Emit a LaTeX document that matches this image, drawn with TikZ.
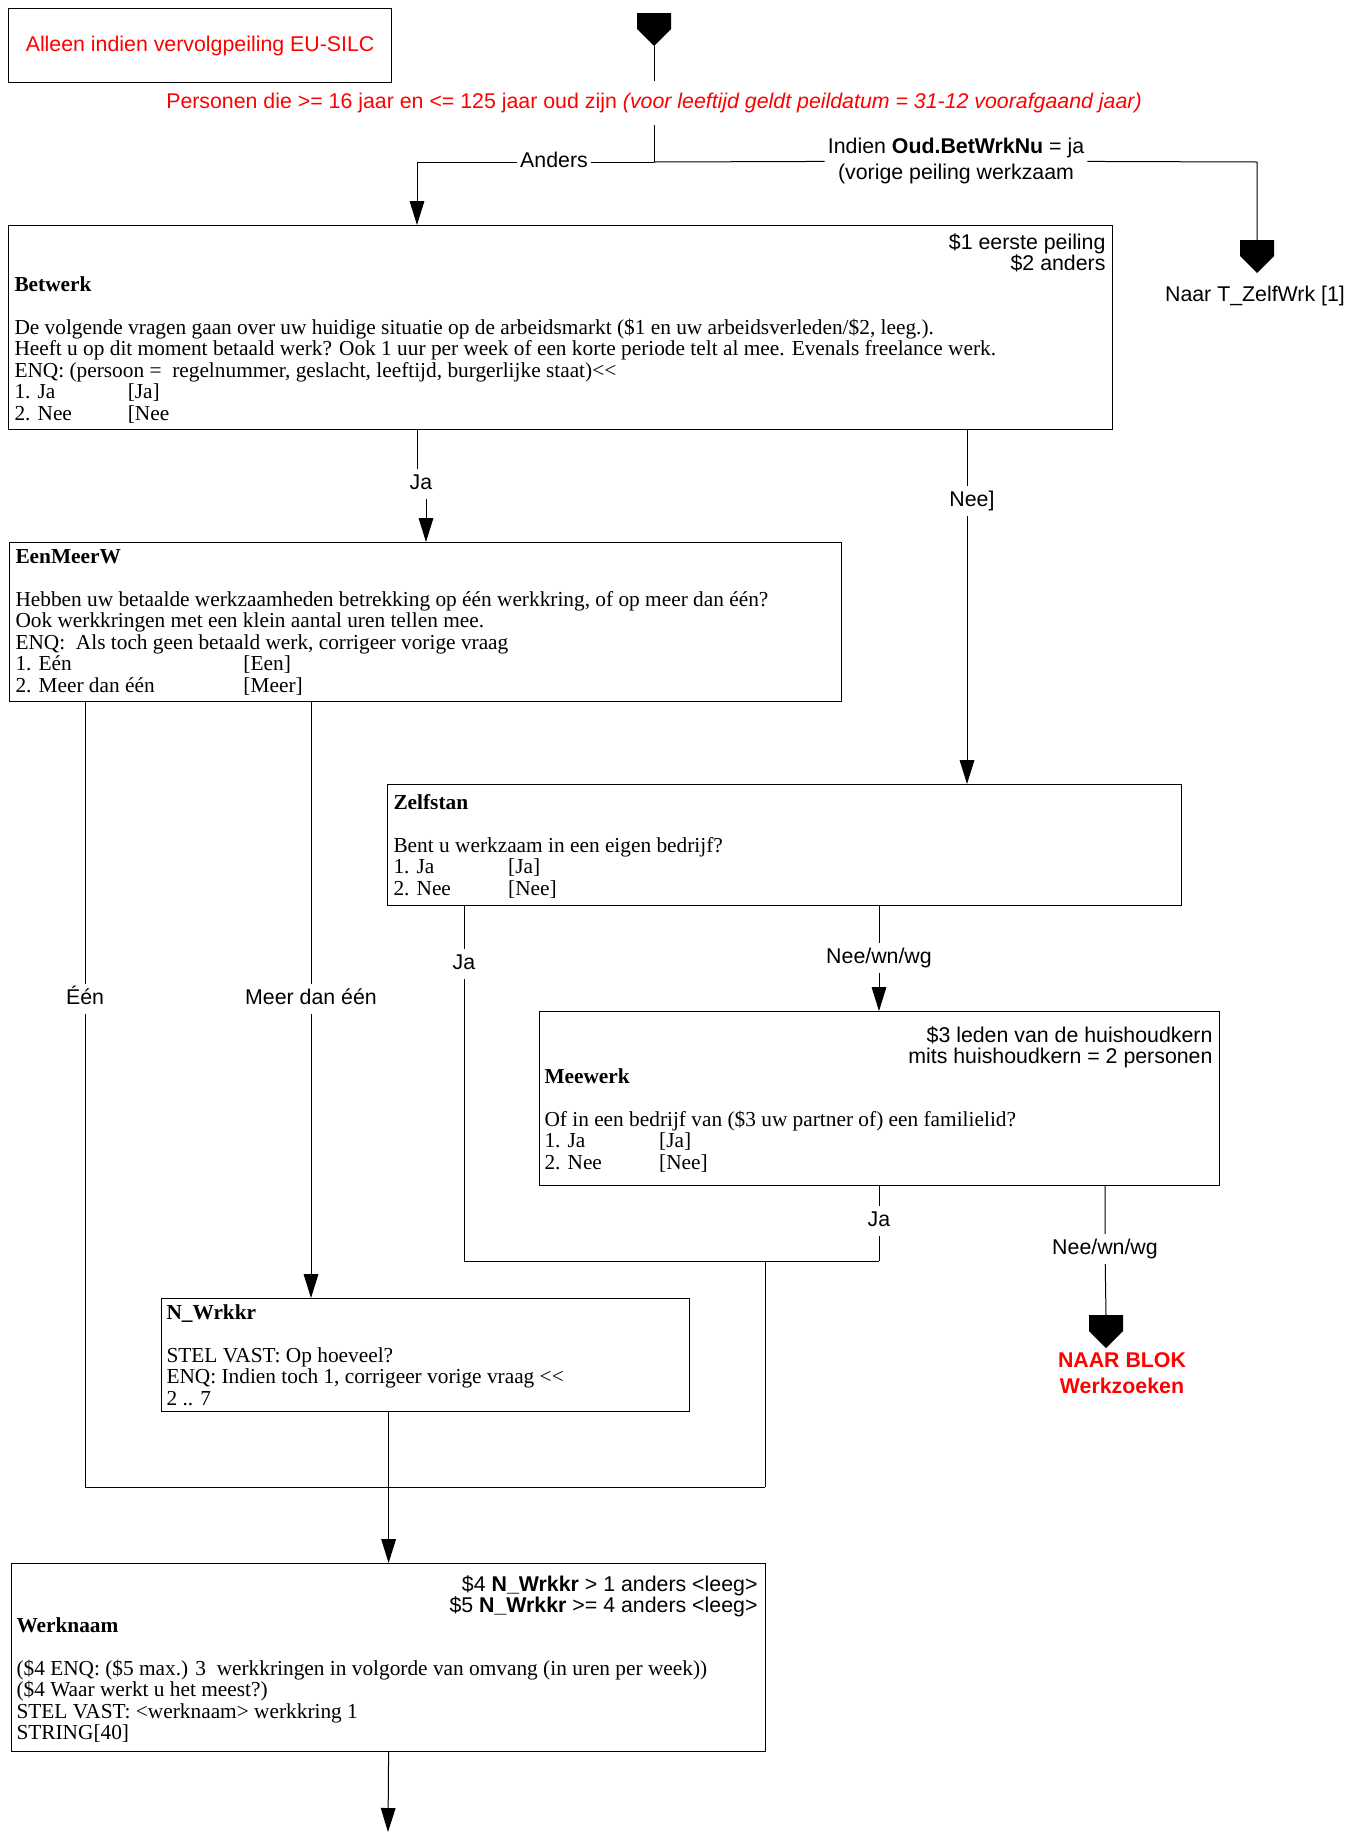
\documentclass[tikz,border=0pt]{standalone}
\usepackage{fontspec}
\setmainfont{Liberation Serif}
\setsansfont{Liberation Sans}
\usetikzlibrary{arrows.meta}
\newcommand{\answ}[3]{\makebox[#1][l]{#2}#3}
\tikzset{
  stopmark/.pic={
    \fill (-17,0) -- (17,0) -- (17,16) -- (0,33) -- (-17,16) -- cycle;
    \coordinate (-top) at (0,0);
    \coordinate (-tip) at (0,33);
  }
}
\begin{document}
\begin{tikzpicture}[x=0.75pt,y=-0.75pt,line width=0.75pt,
    qbox/.style={draw, line width=0.9pt, inner sep=0, anchor=north west},
    qtext/.style={font=\rmfamily\fontsize{16}{16.1}\selectfont, align=left, inner sep=0, anchor=north west},
    cond/.style={font=\sffamily\fontsize{16}{16}\selectfont, align=right, inner sep=0, anchor=north east},
    lbl/.style={font=\sffamily\fontsize{16}{18}\selectfont, inner xsep=2pt, inner ysep=4pt, text height=11pt, text depth=3pt},
    redtext/.style={font=\sffamily\fontsize{16}{18}\selectfont, text=red},
    flow/.style={-{Triangle[length=18pt,width=11pt]}}]
  \useasboundingbox (0,0) rectangle (1346,1832);
  % Alleen box
  \node[qbox, minimum width=287.25pt, minimum height=55.5pt, redtext] (alleen) at (8,8) {Alleen indien vervolgpeiling EU-SILC};
  % Start and condition
  \pic (start) at (654,13) {stopmark};
  \node[redtext, inner ysep=9pt] (persons) at (654,103) {Personen die >= 16 jaar en <= 125 jaar oud zijn \textit{(voor leeftijd geldt peildatum = 31-12 voorafgaand jaar)}};
  \coordinate (split) at (654,162);
  % Betwerk box
  \node[qbox, minimum width=828pt, minimum height=153pt] (betwerk) at (8,225) {};
  \node[cond] (betwerkcond) at (1106,233) {\$1 eerste peiling\\\$2 anders};
  \node[qtext] (betwerktxt) at (14,276) {\textbf{Betwerk}\\[16.1pt]
    De volgende vragen gaan over uw huidige situatie op de arbeidsmarkt (\$1 en uw arbeidsverleden/\$2, leeg.).\\
    Heeft u op dit moment betaald werk? Ook 1 uur per week of een korte periode telt al mee. Evenals freelance werk.\\
    ENQ: (persoon =~ regelnummer, geslacht, leeftijd, burgerlijke staat)<{}<\\
    \answ{85pt}{1. Ja}{[Ja]}\\
    \answ{85pt}{2. Nee}{[Nee}};
  % EenMeerW box
  \node[qbox, minimum width=624pt, minimum height=119.25pt] (eenmeerw) at (9,542) {};
  \node[qtext] (eenmeerwtxt) at (15,549) {\textbf{EenMeerW}\\[16.1pt]
    Hebben uw betaalde werkzaamheden betrekking op één werkkring, of op meer dan één?\\
    Ook werkkringen met een klein aantal uren tellen mee.\\
    ENQ:~ Als toch geen betaald werk, corrigeer vorige vraag\\
    \answ{171pt}{1. Eén}{[Een]}\\
    \answ{171pt}{2. Meer dan één}{[Meer]}};
  % Zelfstan box
  \node[qbox, minimum width=595.5pt, minimum height=90.75pt] (zelfstan) at (387,784) {};
  \node[qtext] (zelfstantxt) at (393,794) {\textbf{Zelfstan}\\[16.1pt]
    Bent u werkzaam in een eigen bedrijf?\\
    \answ{86pt}{1. Ja}{[Ja]}\\
    \answ{86pt}{2. Nee}{[Nee]}};
  % Meewerk box
  \node[qbox, minimum width=510pt, minimum height=130.5pt] (meewerk) at (539,1011) {};
  \node[cond] (meewerkcond) at (1213,1026) {\$3 leden van de huishoudkern\\mits huishoudkern = 2 personen};
  \node[qtext] (meewerktxt) at (544,1068) {\textbf{Meewerk}\\[16.1pt]
    Of in een bedrijf van (\$3 uw partner of) een familielid?\\
    \answ{86pt}{1. Ja}{[Ja]}\\
    \answ{86pt}{2. Nee}{[Nee]}};
  % N_Wrkkr box
  \node[qbox, minimum width=396pt, minimum height=84.75pt] (nwrkkr) at (161,1298) {};
  \node[qtext] (nwrkkrtxt) at (166,1304) {\textbf{N\_Wrkkr}\\[16.1pt]
    STEL VAST: Op hoeveel?\\
    ENQ: Indien toch 1, corrigeer vorige vraag <{}<\\
    2 .. 7};
  % Werknaam box
  \node[qbox, minimum width=565.5pt, minimum height=141pt] (werknaam) at (11,1563) {};
  \node[cond] (werknaamcond) at (758,1575) {\$4 \textbf{N\_Wrkkr} > 1 anders <leeg>\\\$5 \textbf{N\_Wrkkr} >= 4 anders <leeg>};
  \node[qtext] (werknaamtxt) at (16,1617) {\textbf{Werknaam}\\[16.1pt]
    (\$4 ENQ: (\$5 max.) 3~ werkkringen in volgorde van omvang (in uren per week))\\
    (\$4 Waar werkt u het meest?)\\
    STEL VAST: <werknaam> werkkring 1\\
    STRING[40]};
  % Top connectors
  \draw (start-tip) -- (start-tip |- persons.north);
  \draw (split |- persons.south) -- (split);
  \node[lbl] (anders) at (554,162) {Anders};
  \coordinate (a1) at (417,162);
  \draw[flow] (split) -- (anders) -- (a1) -- (a1 |- betwerk.north);
  \node[font=\sffamily\fontsize{16}{20}\selectfont, align=center, inner sep=2pt] (indien) at (956,161) {Indien \textbf{Oud.BetWrkNu} = ja\\(vorige peiling werkzaam};
  \coordinate (a2) at (1257,162);
  \pic (zwrk) at (1257,240) {stopmark};
  \draw (split) -- (indien) -- (a2) -- (zwrk-top);
  \node[lbl] (zwrktxt) at (1255,296) {Naar T\_ZelfWrk [1]};
  % Betwerk connectors
  \node[lbl] (lja) at (421,484) {Ja};
  \coordinate (jatop) at (417,484);
  \coordinate (jabot) at (426,484);
  \draw (jatop |- betwerk.south) -- (jatop |- lja.north);
  \draw[flow] (jabot |- lja.south) -- (jabot |- eenmeerw.north);
  \node[lbl] (lnee) at (972,501) {Nee]};
  \coordinate (neex) at (967,501);
  \draw (neex |- betwerk.south) -- (neex |- lnee.north);
  \draw[flow] (neex |- lnee.south) -- (neex |- zelfstan.north);
  % EenMeerW connectors
  \coordinate (join) at (879,1261);
  \coordinate (merge) at (765,1487);
  \node[lbl] (leen) at (85,999) {Één};
  \draw (leen |- eenmeerw.south) -- (leen) -- (leen |- merge) -- (merge);
  \node[lbl] (lmeer) at (311,999) {Meer dan één};
  \draw[flow] (lmeer |- eenmeerw.south) -- (lmeer) -- (lmeer |- nwrkkr.north);
  % Zelfstan connectors
  \node[lbl] (lzja) at (464,964) {Ja};
  \draw (lzja |- zelfstan.south) -- (lzja) -- (lzja |- join) -- (join);
  \node[lbl] (lznee) at (879,958) {Nee/wn/wg};
  \draw[flow] (lznee |- zelfstan.south) -- (lznee) -- (lznee |- meewerk.north);
  % Meewerk connectors
  \node[lbl] (lmja) at (879,1221) {Ja};
  \draw (lmja |- meewerk.south) -- (lmja) -- (join);
  \draw (merge |- join) -- (merge);
  \node[lbl] (lmnee) at (1105,1249) {Nee/wn/wg};
  \pic (blok) at (1106,1315) {stopmark};
  \draw (lmnee |- meewerk.south) -- (lmnee) -- (blok-top);
  \node[text=red, font=\sffamily\bfseries\fontsize{16}{19.5}\selectfont, align=center] (bloktxt) at (1122,1373) {NAAR BLOK\\Werkzoeken};
  % Werknaam connectors
  \draw[flow] (werknaam.north |- nwrkkr.south) -- (werknaam.north);
  \coordinate (end) at (388,1832);
  \draw[flow] (werknaam.south) -- (end);
\end{tikzpicture}
\end{document}
